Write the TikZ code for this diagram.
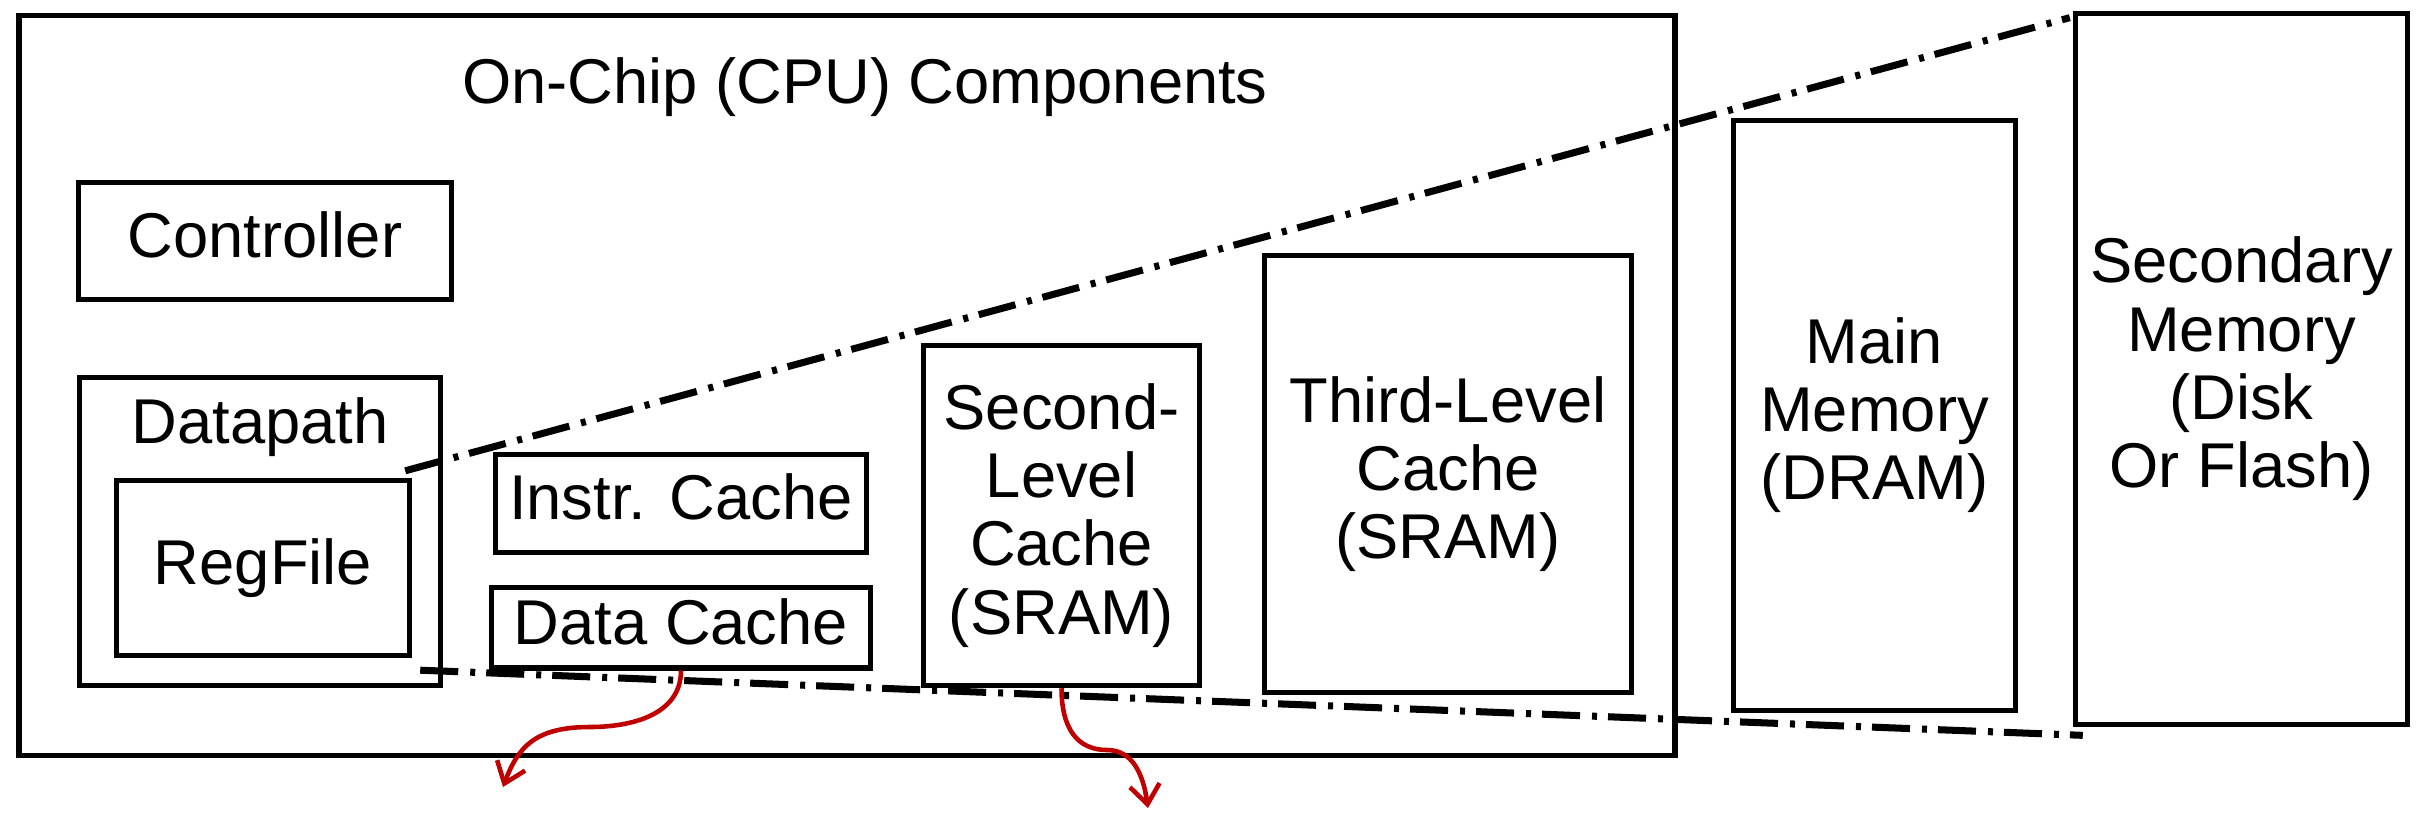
\documentclass[tikz,border=0pt]{standalone}
\usepackage{fontspec}
\setmainfont{Liberation Sans}
\usepackage{tikz}
\usepackage{xcolor}
\usetikzlibrary{
    arrows.meta,
    positioning
}
\definecolor{spillred}{RGB}{192,0,0}

\begin{document}
\begin{tikzpicture}[
                        x=0.01cm, y=-0.01cm,
                        every node/.style={font=\fontsize{18}{19.4}\selectfont},
                        blockbox/.style={draw, line width=1.5pt, inner sep=0pt, align=center, text depth=3.8pt},
                        zoomline/.style={line width=2pt, dash pattern=on 0.38cm off 0.12cm on 0.05cm off 0.11cm},
                        spillarrow/.style={spillred, line width=1.3pt, -{Straight Barb[length=5.5pt, width=8.5pt]}}
                    ]
                        \useasboundingbox (0, 0) rectangle (2422, 812);
                        \node[blockbox, minimum width=16.55cm, minimum height=7.40cm] (cpu) at (847, 385.5) {};
                        \node[anchor=base] (title) at (865, 103) {On-Chip (CPU) Components};
                        \node[blockbox, minimum width=3.73cm, minimum height=1.17cm] (ctrl) at (265, 241) {Controller};
                        \node[blockbox, minimum width=3.61cm, minimum height=3.08cm] (dp) at (260, 531.5) {};
                        \node[anchor=base] (dplabel) at (260, 443) {Datapath};
                        \node[blockbox, minimum width=2.93cm, minimum height=1.75cm] (reg) at (263, 568) {RegFile};
                        \node[blockbox, minimum width=3.71cm, minimum height=0.98cm] (icache) at (681, 503.5) {Instr. Cache};
                        \node[blockbox, minimum width=3.79cm, minimum height=0.80cm, below=0.30cm of icache] (dcache) {Data Cache};
                        \node[blockbox, minimum width=2.76cm, minimum height=3.40cm] (ltwo) at (1061.5, 515.5) {Second-\\Level\\Cache\\(SRAM)};
                        \node[blockbox, minimum width=3.67cm, minimum height=4.37cm] (lthree) at (1448, 474) {Third-Level\\Cache\\(SRAM)};
                        \node[blockbox, minimum width=2.82cm, minimum height=5.90cm] (main) at (1874.5, 415.5) {Main\\Memory\\(DRAM)};
                        \node[blockbox, minimum width=3.32cm, minimum height=7.11cm] (sec) at (2241.5, 369) {Secondary\\Memory\\(Disk\\Or Flash)};
                        \draw[zoomline] ([shift={(-7, -7)}]reg.north east) -- ([shift={(-3, 7)}]sec.north west);
                        \draw[zoomline] ([shift={(8, 12)}]reg.south east) -- ([shift={(10, 8)}]sec.south west);
                        \coordinate (dcbend) at (590, 727);
                        \coordinate (dctip) at (503, 787);
                        \coordinate (ltwobend) at (1107, 750);
                        \coordinate (ltwotip) at (1148, 808);
                        \draw[spillarrow] (dcache.south) .. controls +(0, 45) and +(40, 0) .. (dcbend)
                            .. controls +(-55, 0) and +(15, -40) .. (dctip);
                        \draw[spillarrow] (ltwo.south) .. controls +(0, 40) and +(-30, 0) .. (ltwobend)
                            .. controls +(25, 0) and +(-5, -35) .. (ltwotip);
                    \end{tikzpicture}
\end{document}
